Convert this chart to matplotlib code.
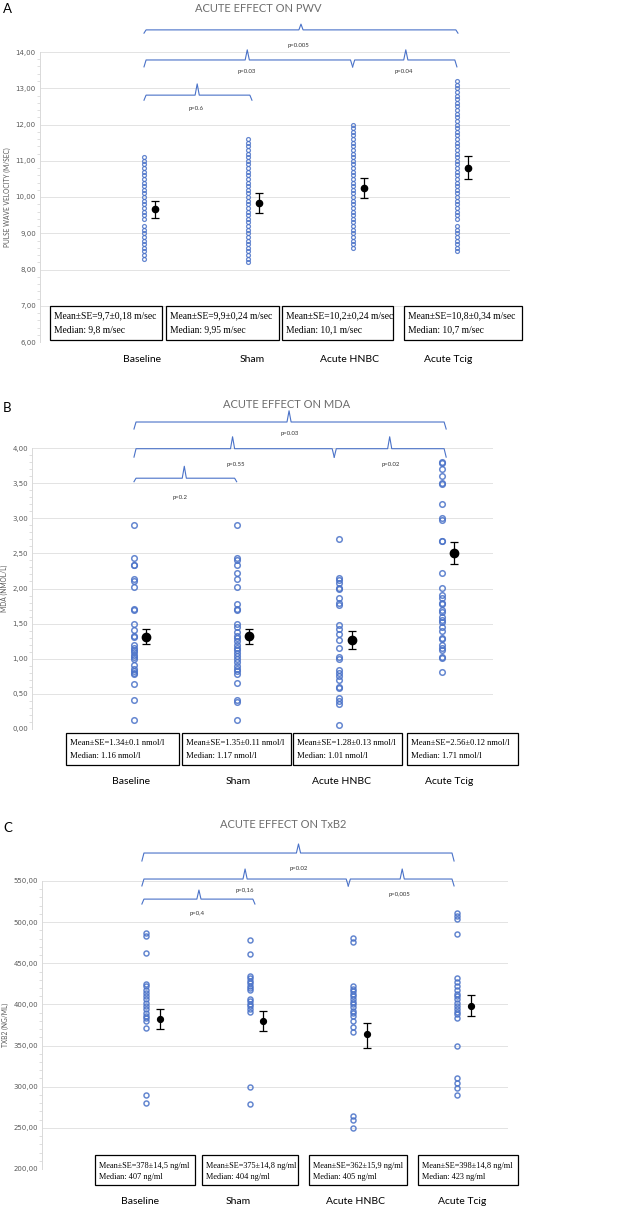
import numpy as np
import matplotlib
matplotlib.use('Agg')
import matplotlib.pyplot as plt
from matplotlib.patches import Rectangle
from matplotlib.ticker import MultipleLocator, FuncFormatter

# data
groups = ['Baseline', 'Sham', 'Acute HNBC', 'Acute Tcig']

# A - pulse wave velocity (m/sec)
pwv_baseline = [8.3, 8.4, 8.5, 8.6, 8.7, 8.8, 8.9, 9.0, 9.1, 9.2,
                9.4, 9.5, 9.6, 9.7, 9.8, 9.9, 10.0, 10.1, 10.2, 10.3, 10.4,
                10.5, 10.6, 10.7, 10.8, 10.9, 11.0, 11.1]
pwv_sham = [8.2, 8.3, 8.4, 8.5, 8.6, 8.7, 8.8, 8.9, 9.0, 9.1, 9.2, 9.3,
            9.4, 9.5, 9.6, 9.7, 9.8, 9.9, 10.0, 10.1, 10.2, 10.3, 10.4, 10.5,
            10.6, 10.7, 10.8, 10.9, 11.0, 11.1, 11.2, 11.3, 11.4, 11.5, 11.6]
pwv_hnbc = [8.6, 8.7, 8.8, 8.9, 9.0, 9.1, 9.2, 9.3, 9.4, 9.5, 9.6, 9.7,
            9.8, 9.9, 10.0, 10.1, 10.2, 10.3, 10.4, 10.5, 10.6, 10.7, 10.8,
            10.9, 11.0, 11.1, 11.2, 11.3, 11.4, 11.5, 11.6, 11.7, 11.8, 11.9, 12.0]
pwv_tcig = [8.5, 8.6, 8.7, 8.8, 8.9, 9.0, 9.1, 9.2,
            9.4, 9.5, 9.6, 9.7, 9.8, 9.9, 10.0, 10.1, 10.2, 10.3, 10.4, 10.5,
            10.6, 10.7, 10.8, 10.9, 11.0, 11.1, 11.2, 11.3, 11.4, 11.5, 11.6,
            11.7, 11.8, 11.9, 12.0, 12.1, 12.2, 12.3, 12.4, 12.5, 12.6, 12.7,
            12.8, 12.9, 13.0, 13.1, 13.2]
pwv_mean = [9.66, 9.84, 10.26, 10.79]
pwv_lo = [9.41, 9.55, 9.96, 10.49]
pwv_hi = [9.89, 10.10, 10.53, 11.14]

# B - MDA (nmol/l)
mda_baseline = [2.9, 2.43, 2.34, 2.33, 2.13, 2.11, 2.02, 1.71, 1.7, 1.5, 1.41,
                1.33, 1.31, 1.19, 1.16, 1.13, 1.1, 1.05, 1.02, 1.0, 0.91, 0.86,
                0.83, 0.8, 0.78, 0.64, 0.41, 0.13]
mda_sham = [2.9, 2.44, 2.4, 2.34, 2.22, 2.13, 2.02, 1.78, 1.71, 1.69, 1.5, 1.45,
            1.38, 1.33, 1.3, 1.25, 1.2, 1.15, 1.12, 1.08, 1.04, 1.0, 0.95, 0.9,
            0.86, 0.82, 0.78, 0.65, 0.41, 0.38, 0.13]
mda_hnbc = [2.7, 2.15, 2.12, 2.08, 2.01, 1.99, 1.87, 1.8, 1.77, 1.48, 1.43, 1.35,
            1.27, 1.15, 1.03, 1.0, 0.84, 0.8, 0.75, 0.7, 0.6, 0.59, 0.44, 0.4,
            0.36, 0.06]
mda_tcig = [3.8, 3.79, 3.7, 3.6, 3.5, 3.49, 3.2, 3.0, 2.98, 2.68, 2.67, 2.22,
            2.01, 1.91, 1.86, 1.8, 1.78, 1.7, 1.66, 1.6, 1.55, 1.52, 1.45, 1.4,
            1.3, 1.28, 1.2, 1.16, 1.12, 1.03, 1.01, 0.81]
mda_mean = [1.31, 1.32, 1.27, 2.50]
mda_lo = [1.21, 1.21, 1.14, 2.35]
mda_hi = [1.42, 1.43, 1.39, 2.66]

# C - TxB2 (ng/ml)
txb_baseline = [487, 483, 462, 425, 422, 418, 414, 410, 406, 402, 398, 394,
                390, 386, 383, 380, 371, 290, 280]
txb_sham = [478, 461, 435, 432, 429, 426, 423, 420, 417, 407, 404, 401, 398,
            395, 391, 300, 279]
txb_hnbc = [481, 476, 422, 419, 416, 413, 410, 406, 403, 400, 397, 392, 389,
            386, 380, 372, 367, 265, 260, 250]
txb_tcig = [511, 508, 504, 485, 432, 427, 422, 417, 413, 410, 406, 402, 398,
            395, 391, 388, 384, 350, 310, 304, 299, 290]
txb_mean = [382, 380, 364, 398.5]
txb_lo = [370, 368, 347, 386]
txb_hi = [394, 392, 377, 411]

pwv_stats = [['Mean±SE=9,7±0,18 m/sec', 'Median: 9,8 m/sec'],
             ['Mean±SE=9,9±0,24 m/sec', 'Median: 9,95 m/sec'],
             ['Mean±SE=10,2±0,24 m/sec', 'Median: 10,1 m/sec'],
             ['Mean±SE=10,8±0,34 m/sec', 'Median: 10,7 m/sec']]
mda_stats = [['Mean±SE=1.34±0.1 nmol/l', 'Median: 1.16 nmol/l'],
             ['Mean±SE=1.35±0.11 nmol/l', 'Median: 1.17 nmol/l'],
             ['Mean±SE=1.28±0.13 nmol/l', 'Median: 1.01 nmol/l'],
             ['Mean±SE=2.56±0.12 nmol/l', 'Median: 1.71 nmol/l']]
txb_stats = [['Mean±SE=378±14,5 ng/ml', 'Median: 407 ng/ml'],
             ['Mean±SE=375±14,8 ng/ml', 'Median: 404 ng/ml'],
             ['Mean±SE=362±15,9 ng/ml', 'Median: 405 ng/ml'],
             ['Mean±SE=398±14,8 ng/ml', 'Median: 423 ng/ml']]

pwv_p = ['p=0.005', 'p=0.03', 'p=0.04', 'p=0.6']
mda_p = ['p=0.03', 'p=0.55', 'p=0.02', 'p=0.2']
txb_p = ['p=0.02', 'p=0,16', 'p=0,005', 'p=0,4']

W, H = 639, 1210
BLUE = '#4a72c8'
GREY = '#595959'


def fx(x):
    return x / W


def fy(y):
    return 1 - y / H


fig = plt.figure(figsize=(W / 100, H / 100), dpi=100)


def make_axes(left, right, top, bottom):
    return fig.add_axes([fx(left), fy(bottom), (right - left) / W, (bottom - top) / H])


def style_axes(ax, ylim, major, minor, ylabel):
    ax.set_ylim(*ylim)
    ax.yaxis.set_major_locator(MultipleLocator(major))
    ax.yaxis.set_minor_locator(MultipleLocator(minor))
    ax.yaxis.set_major_formatter(FuncFormatter(lambda v, p: ('%.2f' % v).replace('.', ',')))
    ax.grid(axis='y', color='#e3e3e3', lw=0.7)
    ax.set_axisbelow(True)
    for s in ['top', 'right', 'bottom']:
        ax.spines[s].set_visible(False)
    ax.spines['left'].set_color('#d9d9d9')
    ax.spines['left'].set_linewidth(0.7)
    ax.tick_params(axis='y', which='both', colors='#d9d9d9', labelcolor=GREY,
                   labelsize=5, length=2, width=0.6, pad=3)
    ax.tick_params(axis='y', which='major', length=0)
    ax.set_xticks([])
    ax.set_ylabel(ylabel, fontsize=4.8, color=GREY, family='Lato', labelpad=3)


def scatter_groups(ax, series, ms, mew):
    for i, vals in enumerate(series):
        ax.plot(np.full(len(vals), i), vals, 'o', ms=ms, mfc='none', mec=BLUE,
                mew=mew, alpha=0.85, clip_on=False)


def means(ax, mean, lo, hi, dx, ms, cap):
    x = np.arange(len(mean)) + dx
    m = np.array(mean)
    err = [m - np.array(lo), np.array(hi) - m]
    ax.errorbar(x, m, yerr=err, fmt='o', color='black', ms=ms, capsize=cap,
                elinewidth=0.9, capthick=0.9, clip_on=False, zorder=5)


def bracket(ax, x0, x1, xc, y, yend, ytip, e=0.02):
    xs = [x0, x0 + e, xc - e, xc, xc + e, x1 - e, x1]
    ys = [yend, y, y, ytip, y, y, yend]
    ax.plot(xs, ys, color=BLUE, lw=0.8, clip_on=False)


def ptext(ax, x, y, s):
    ax.text(x, y, s, fontsize=4.3, family='Lato', color='#333333',
            ha='center', va='center', clip_on=False)


def boxes(stats, rects, y_lines, size):
    for (x0, x1, y0, y1), lines in zip(rects, stats):
        fig.add_artist(Rectangle((fx(x0), fy(y1)), (x1 - x0) / W, (y1 - y0) / H,
                                 transform=fig.transFigure, fill=False,
                                 ec='black', lw=0.9))
        for yy, s in zip(y_lines, lines):
            fig.text(fx(x0 + 4), fy(yy), s, fontsize=size, family='Liberation Serif',
                     ha='left', va='center')


def cat_labels(xs, y):
    for x, s in zip(xs, groups):
        fig.text(fx(x), fy(y), s, fontsize=7.5, family='Lato', ha='center', va='center')


def heading(letter, ly, title, tx, ty):
    fig.text(fx(3), fy(ly), letter, fontsize=9.5, family='Lato', ha='left', va='center')
    fig.text(fx(tx), fy(ty), title, fontsize=8.0, family='Lato',
             color='#6d6d6d', ha='center', va='center')


# ---------------- Panel A ----------------
axA = make_axes(40, 510, 52, 342)
axA.set_xlim(-0.997, 3.509)
style_axes(axA, (6, 14), 1, 0.2, 'PULSE WAVE VELOCITY (M/SEC)')
scatter_groups(axA, [pwv_baseline, pwv_sham, pwv_hnbc, pwv_tcig], 2.8, 0.9)
means(axA, pwv_mean, pwv_lo, pwv_hi, 0.105, 4.5, 2.8)
bracket(axA, 0, 3.01, 1.505, 14.61, 14.52, 14.77)
bracket(axA, 0, 2.0, 0.99, 13.78, 13.59, 14.06)
bracket(axA, 2.0, 3.0, 2.51, 13.78, 13.59, 14.06)
bracket(axA, 0, 1.035, 0.51, 12.81, 12.67, 13.12)
ptext(axA, 1.48, 14.17, pwv_p[0])
ptext(axA, 0.99, 13.45, pwv_p[1])
ptext(axA, 2.49, 13.45, pwv_p[2])
ptext(axA, 0.50, 12.43, pwv_p[3])
heading('A', 9, 'ACUTE EFFECT ON PWV', 258, 9)
boxes(pwv_stats, [(50, 162, 306, 340), (166, 279, 306, 340),
                  (282, 393, 306, 340), (404, 522, 306, 340)], (316, 330), 6.9)
cat_labels([142, 252, 350, 448], 360)

# ---------------- Panel B ----------------
axB = make_axes(32, 493, 448, 729)
axB.set_xlim(-0.993, 3.496)
style_axes(axB, (0, 4), 0.5, 0.1, 'MDA (NMOL/L)')
scatter_groups(axB, [mda_baseline, mda_sham, mda_hnbc, mda_tcig], 4.0, 1.1)
means(axB, mda_mean, mda_lo, mda_hi, 0.12, 6, 2.8)
bracket(axB, 0, 3.04, 1.51, 4.37, 4.27, 4.53)
bracket(axB, 0, 1.95, 0.96, 3.99, 3.87, 4.16)
bracket(axB, 1.95, 3.04, 2.49, 3.99, 3.87, 4.16)
bracket(axB, 0, 1.0, 0.49, 3.57, 3.52, 3.74)
ptext(axB, 1.52, 4.20, mda_p[0])
ptext(axB, 0.99, 3.76, mda_p[1])
ptext(axB, 2.50, 3.76, mda_p[2])
ptext(axB, 0.45, 3.30, mda_p[3])
heading('B', 408, 'ACUTE EFFECT ON MDA', 287, 405)
boxes(mda_stats, [(66, 179, 733, 765), (182, 291, 733, 765),
                  (293, 402, 733, 765), (407, 518, 733, 765)], (743, 756), 6.2)
cat_labels([131, 238, 342, 449], 782)

# ---------------- Panel C ----------------
axC = make_axes(42, 508, 881, 1169)
axC.set_xlim(-1.003, 3.49)
style_axes(axC, (200, 550), 50, 10, 'TXB2 (NG/ML)')
scatter_groups(axC, [txb_baseline, txb_sham, txb_hnbc, txb_tcig], 3.6, 1.1)
means(axC, txb_mean, txb_lo, txb_hi, 0.13, 4.2, 2.8)
bracket(axC, -0.04, 2.97, 1.47, 584, 574.3, 595)
bracket(axC, -0.04, 1.95, 0.955, 552.4, 544, 564.6)
bracket(axC, 1.95, 2.97, 2.47, 552.4, 544, 564.6)
bracket(axC, -0.04, 1.05, 0.51, 528, 522, 539)
ptext(axC, 1.47, 564.6, txb_p[0])
ptext(axC, 0.955, 539, txb_p[1])
ptext(axC, 2.44, 534.2, txb_p[2])
ptext(axC, 0.49, 511, txb_p[3])
heading('C', 828, 'ACUTE EFFECT ON TxB2', 283, 824)
boxes(txb_stats, [(95, 195, 1155, 1185), (202, 298, 1155, 1185),
                  (309, 407, 1155, 1185), (418, 518, 1155, 1185)], (1166, 1177), 5.95)
cat_labels([140, 238, 355, 462], 1202)

fig.savefig('out.png', dpi=100)
